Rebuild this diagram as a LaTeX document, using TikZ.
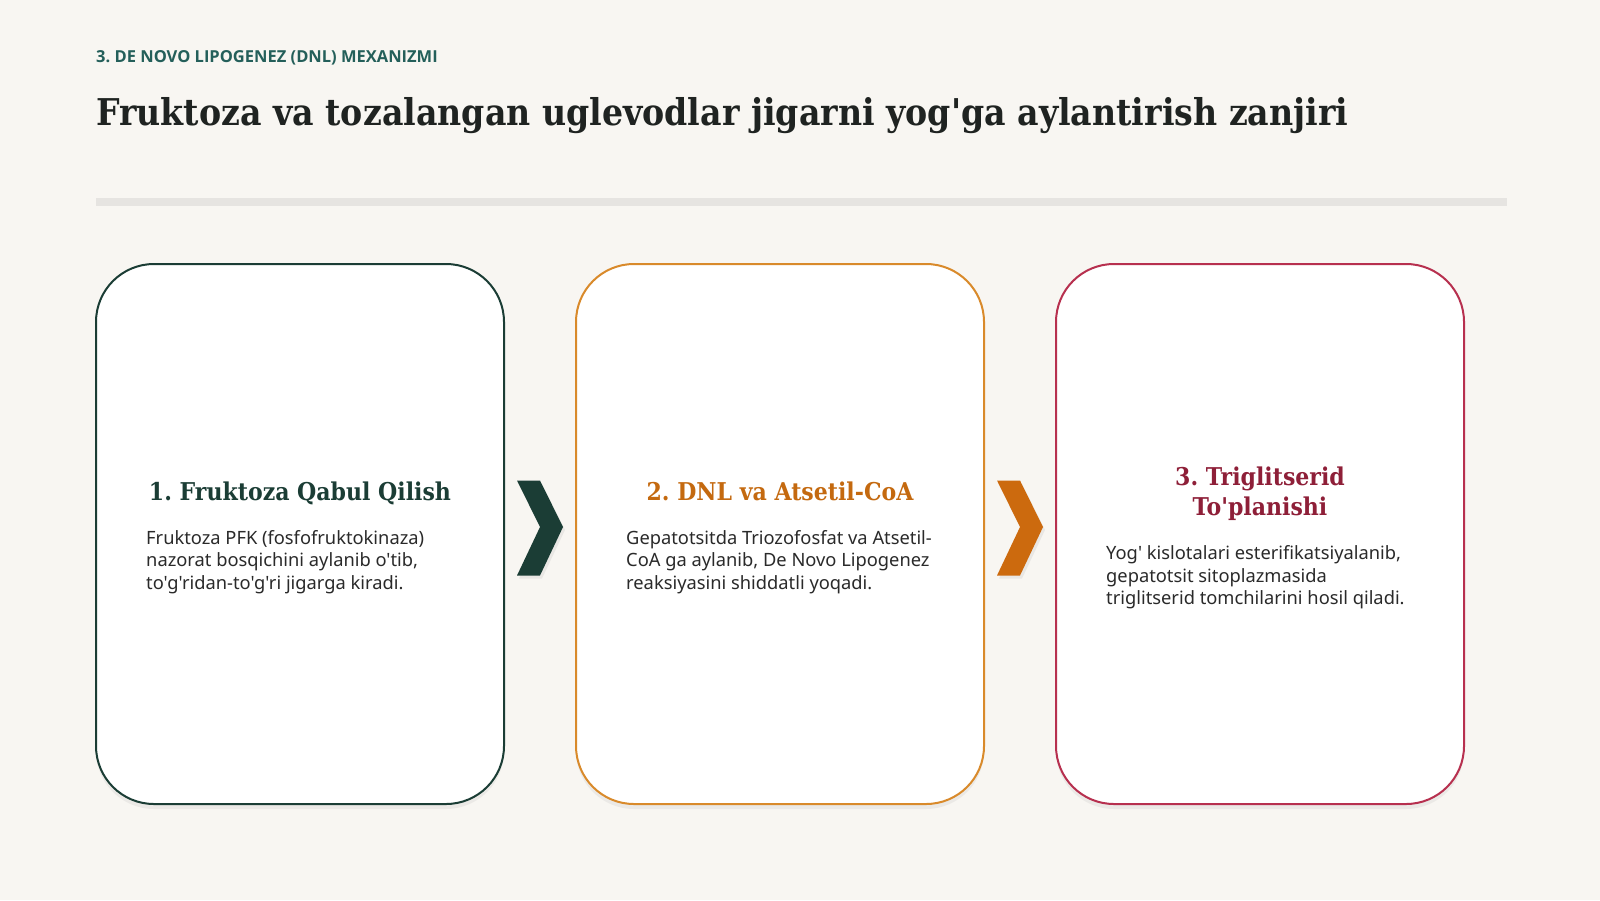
\documentclass[tikz,border=0pt]{standalone}
\usepackage{fontspec}
\setmainfont{Noto Sans}
\newfontfamily\serifbold[FakeStretch=0.9]{DejaVu Serif}
\newfontfamily\sansfam{Noto Sans}
\newfontfamily\kickfam{Open Sans}
\usetikzlibrary{shadows,calc}
\definecolor{bgc}{HTML}{F8F6F2}
\definecolor{tealc}{HTML}{245F5A}
\definecolor{inkc}{HTML}{1F2321}
\definecolor{greenc}{HTML}{1B3D35}
\definecolor{orangeb}{HTML}{D98A2B}
\definecolor{orangec}{HTML}{C4690F}
\definecolor{orangech}{HTML}{CC6A0E}
\definecolor{redb}{HTML}{B7304F}
\definecolor{redc}{HTML}{8E1F38}
\definecolor{bodyc}{HTML}{2A2A2A}
\definecolor{barc}{HTML}{E6E4E1}
\tikzset{
  card/.style={draw=#1, line width=2pt, fill=white, rounded corners=58pt,
    minimum width=408pt, minimum height=540pt, inner sep=0pt,
    drop shadow={opacity=0.10, shadow xshift=0pt, shadow yshift=-5pt}},
  chev/.style={fill=#1, drop shadow={opacity=0.12, shadow xshift=2pt, shadow yshift=-3pt}},
  ttl/.style={anchor=base, inner sep=0pt, text=#1, font=\frenchspacing\serifbold\bfseries\fontsize{24.5}{29.5}\selectfont},
  bline/.style={anchor=base west, inner sep=0pt, text=bodyc, font=\frenchspacing\sansfam\fontsize{18.3}{22.5}\selectfont},
}
\begin{document}
\begin{tikzpicture}[x=1pt,y=-1pt]
\fill[bgc] (0,0) rectangle (1600,900);
\useasboundingbox (0,0) rectangle (1600,900);
\node[anchor=west, font=\frenchspacing\kickfam\bfseries\fontsize{16.5}{19}\selectfont, text=tealc, inner sep=0pt] (kicker) at (96,58) {3. DE NOVO LIPOGENEZ (DNL) MEXANIZMI};
\node[anchor=base west, font=\frenchspacing\serifbold\bfseries\fontsize{36.9}{44}\selectfont, text=inkc, inner sep=0pt] (title) at (96,125) {Fruktoza va tozalangan uglevodlar jigarni yog'ga aylantirish zanjiri};
\fill[barc] (96,198) rectangle (1507,206);
% cards
\node[card=greenc] (c1) at (300,534) {};
\node[card=orangeb] (c2) at (780,534) {};
\node[card=redb] (c3) at (1260,534) {};
% card 1
\node[ttl=greenc] (t1) at ($(c1.north)+(0,237)$) {1. Fruktoza Qabul Qilish};
\node[bline] (b1a) at ($(c1.north west)+(51,281)$) {Fruktoza PFK (fosfofruktokinaza)};
\node[bline] (b1b) at ($(c1.north west)+(51,303.5)$) {nazorat bosqichini aylanib o'tib,};
\node[bline] (b1c) at ($(c1.north west)+(51,326)$) {to'g'ridan-to'g'ri jigarga kiradi.};
% card 2
\node[ttl=orangec] (t2) at ($(c2.north)+(0,237)$) {2. DNL va Atsetil-CoA};
\node[bline] (b2a) at ($(c2.north west)+(51,281)$) {Gepatotsitda Triozofosfat va Atsetil-};
\node[bline] (b2b) at ($(c2.north west)+(51,303.5)$) {CoA ga aylanib, De Novo Lipogenez};
\node[bline] (b2c) at ($(c2.north west)+(51,326)$) {reaksiyasini shiddatli yoqadi.};
% card 3
\node[ttl=redc] (t3a) at ($(c3.north)+(0,222.5)$) {3. Triglitserid};
\node[ttl=redc] (t3b) at ($(c3.north)+(0,252)$) {To'planishi};
\node[bline] (b3a) at ($(c3.north west)+(51,296.5)$) {Yog' kislotalari esterifikatsiyalanib,};
\node[bline] (b3b) at ($(c3.north west)+(51,319)$) {gepatotsit sitoplazmasida};
\node[bline] (b3c) at ($(c3.north west)+(51,341.5)$) {triglitserid tomchilarini hosil qiladi.};
% chevrons
\coordinate (m1) at ($(c1.east)!0.5!(c2.west)+(0,-6)$);
\coordinate (m2) at ($(c2.east)!0.5!(c3.west)+(0,-6)$);
\foreach \m/\col in {m1/greenc, m2/orangech}{
  \fill[chev=\col] ($(\m)+(-23,-47.5)$) -- ($(\m)+(0,-47.5)$) -- ($(\m)+(23,-1)$) -- ($(\m)+(0,47.5)$) -- ($(\m)+(-23,47.5)$) -- ($(\m)+(0,-1)$) -- cycle;
}
\end{tikzpicture}
\end{document}
